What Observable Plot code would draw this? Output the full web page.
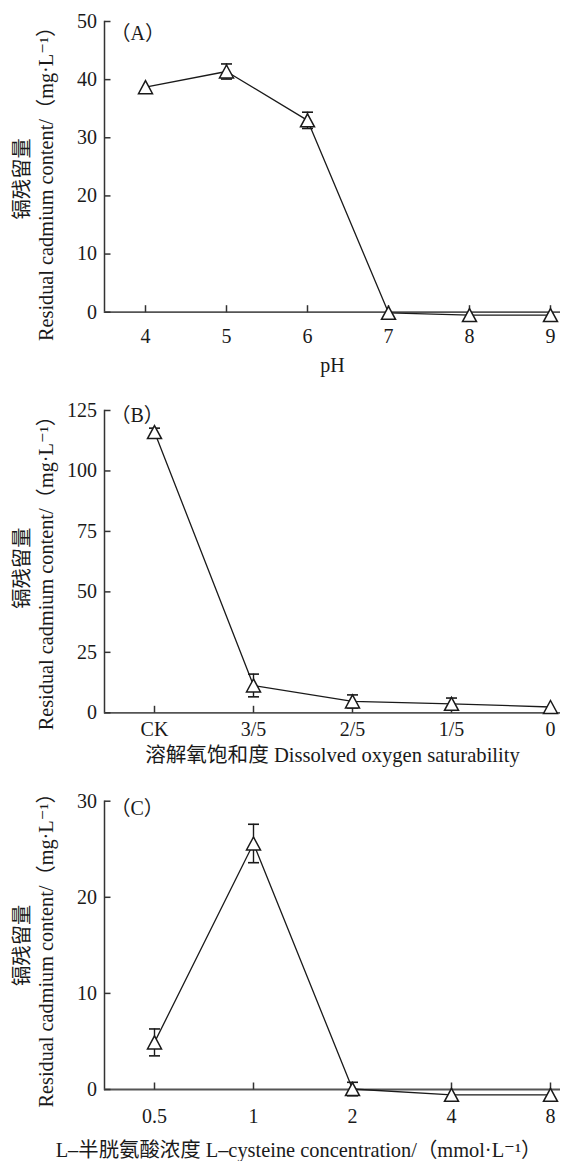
<!DOCTYPE html>
<html><head><meta charset="utf-8">
<script src="https://cdn.jsdelivr.net/npm/d3@7"></script>
<script src="https://cdn.jsdelivr.net/npm/@observablehq/plot@0.6"></script>
<style>
body{margin:0;background:#fff;}
#chart{width:561px;}
#chart svg{display:block;}
#chart svg, #chart svg text{font-family:"Liberation Serif","Tinos","DejaVu Serif","Noto Sans CJK SC",serif !important;}
</style></head><body><div id="chart"></div>
<script>
// Panel A: pH
const phLabels = ["4", "5", "6", "7", "8", "9"];
const phValues = [38.7, 41.4, 33.0, -0.1, -0.5, -0.5];
const phErrors = [0, 1.3, 1.4, 0, 0, 0];
const phTicks = [0, 10, 20, 30, 40, 50];

// Panel B: dissolved oxygen saturability
const doLabels = ["CK", "3/5", "2/5", "1/5", "0"];
const doValues = [116.1, 11.3, 4.7, 3.7, 2.4];
const doErrors = [1.6, 4.7, 2.7, 2.4, 0];
const doTicks = [0, 25, 50, 75, 100, 125];

// Panel C: L-cysteine concentration
const cysLabels = ["0.5", "1", "2", "4", "8"];
const cysValues = [4.9, 25.6, 0.05, -0.55, -0.55];
const cysErrors = [1.4, 2.0, 0.7, 0, 0];
const cysTicks = [0, 10, 20, 30];

const panelTags = ["（A）", "（B）", "（C）"];
const xTitles = [
  "pH",
  "溶解氧饱和度 Dissolved oxygen saturability",
  "L–半胱氨酸浓度 L–cysteine concentration/（mmol·L⁻¹）"
];
const yTitle = "镉残留量\nResidual cadmium content/（mg·L⁻¹）";

const FONT = '"Liberation Serif", "Tinos", "DejaVu Serif", "Noto Sans CJK SC", serif';
const INK = "#1a1a1a";

const tickRight = {draw(ctx) { ctx.moveTo(0, 0); ctx.lineTo(6, 0); }};
const tickUp = {draw(ctx) { ctx.moveTo(0, 0); ctx.lineTo(0, -7); }};
const cap = {draw(ctx) { ctx.moveTo(-5.5, 0); ctx.lineTo(5.5, 0); }};
const tri = {draw(ctx) { ctx.moveTo(0, -6.5); ctx.lineTo(7, 6.5); ctx.lineTo(-7, 6.5); ctx.closePath(); }};

function panel(o) {
  const data = o.labels.map((k, i) => ({k, v: o.values[i], e: o.errors[i]}));
  const err = data.filter(d => d.e > 0);
  const ticks = o.ticks;
  return Plot.plot({
    width: 561,
    height: o.height,
    marginTop: o.mt,
    marginBottom: o.mb,
    marginLeft: 104,
    marginRight: 1,
    style: {fontFamily: FONT, fontSize: "20px", color: INK, background: "#fff", overflow: "visible"},
    x: {type: "point", domain: o.labels, padding: 0, insetLeft: o.insetLeft, insetRight: 9.5},
    y: {domain: [ticks[0], ticks[ticks.length - 1]]},
    marks: [
      Plot.axisX(o.labels, {tickSize: 0, tickPadding: o.tickPad, label: null, fontSize: 20}),
      Plot.axisY(ticks, {tickSize: 0, tickPadding: 7.5, label: null, fontSize: 20}),
      Plot.frame({anchor: "left", stroke: "#333", strokeWidth: 1.5}),
      Plot.ruleY([0], {stroke: "#555", strokeWidth: 1.8}),
      Plot.dot(ticks, {y: d => d, frameAnchor: "left", symbol: tickRight, stroke: "#333", strokeWidth: 1.5, fill: "none"}),
      Plot.dot(o.labels, {x: d => d, frameAnchor: "bottom", symbol: tickUp, stroke: "#333", strokeWidth: 1.5, fill: "none"}),
      Plot.line(data, {x: "k", y: "v", stroke: INK, strokeWidth: 1.3}),
      Plot.ruleX(err, {x: "k", y1: d => d.v - d.e, y2: d => d.v + d.e, stroke: INK, strokeWidth: 1.4}),
      Plot.dot(err, {x: "k", y: d => d.v + d.e, symbol: cap, stroke: INK, strokeWidth: 1.6, fill: "none"}),
      Plot.dot(err, {x: "k", y: d => d.v - d.e, symbol: cap, stroke: INK, strokeWidth: 1.6, fill: "none"}),
      Plot.dot(data, {x: "k", y: "v", symbol: tri, fill: "white", stroke: INK, strokeWidth: 1.5}),
      Plot.text([o.tag], {frameAnchor: "top-left", dx: 6, dy: o.tagDy, textAnchor: "start", lineAnchor: "middle", fontSize: 20, fill: INK}),
      Plot.text([o.xTitle], {frameAnchor: "bottom", dx: o.xTitleDx || 0, dy: o.xTitleDy, lineAnchor: "middle", textAnchor: "middle", fontSize: o.xTitleSize || 20, fill: INK}),
      Plot.text([yTitle], {frameAnchor: "left", rotate: -90, dx: -71, dy: o.yTitleDy, lineAnchor: "middle", textAnchor: "middle", lineHeight: 1.17, fontSize: 20.3, fill: INK})
    ]
  });
}

const chart = document.getElementById("chart");
chart.append(panel({
  labels: phLabels, values: phValues, errors: phErrors, ticks: phTicks,
  tag: panelTags[0], xTitle: xTitles[0],
  height: 385, mt: 21, mb: 73.3, insetLeft: 40, tickPad: 17, xTitleDy: 53, yTitleDy: 12, tagDy: 12.5
}));
chart.append(panel({
  labels: doLabels, values: doValues, errors: doErrors, ticks: doTicks,
  tag: panelTags[1], xTitle: xTitles[1], xTitleSize: 20.6,
  height: 385, mt: 25, mb: 57.7, insetLeft: 49, tickPad: 9, xTitleDy: 43, yTitleDy: 6.5, tagDy: 5
}));
chart.append(panel({
  labels: cysLabels, values: cysValues, errors: cysErrors, ticks: cysTicks,
  tag: panelTags[2], xTitle: xTitles[2], xTitleSize: 20.4,
  height: 391, mt: 30.7, mb: 72, insetLeft: 49, tickPad: 19, xTitleDy: 61, xTitleDx: -34, yTitleDy: 0, tagDy: 7
}));
</script>
</body></html>
